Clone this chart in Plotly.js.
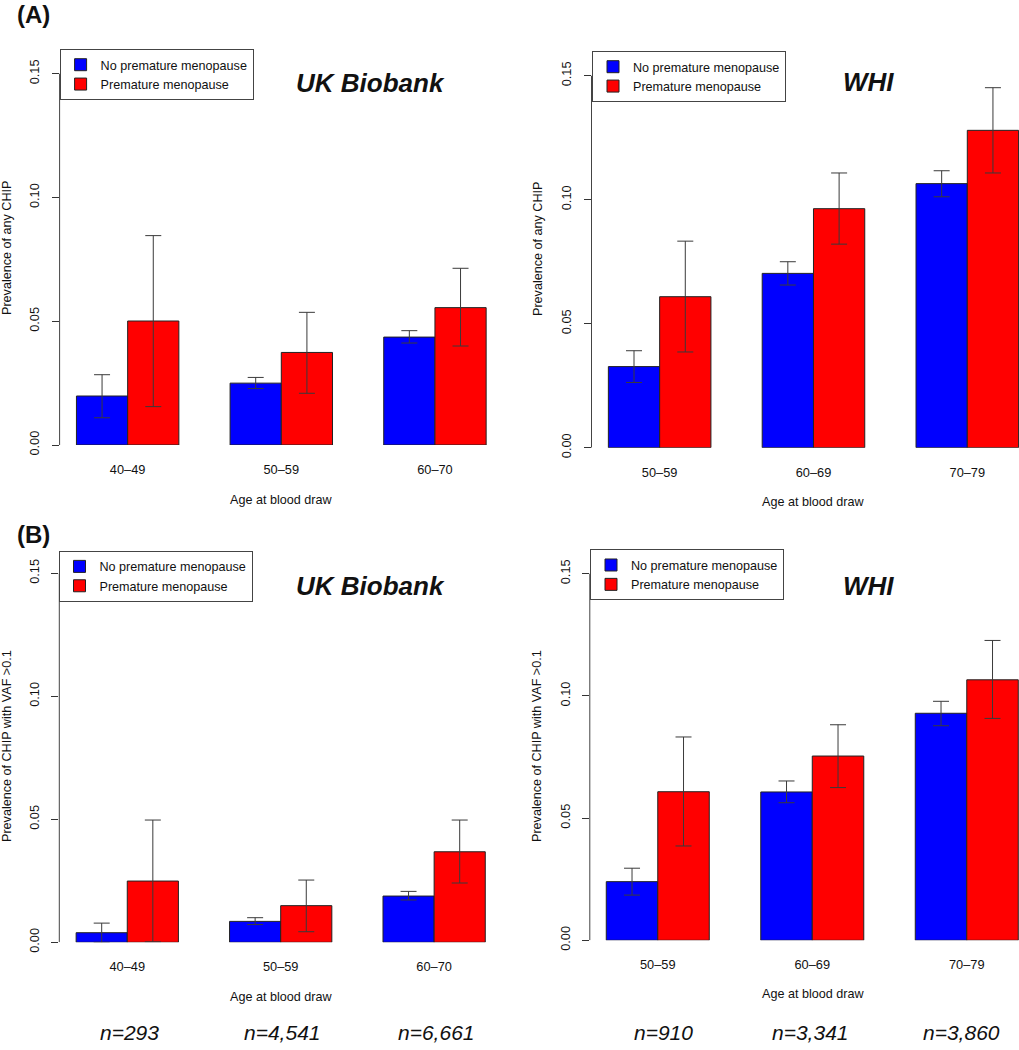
<!DOCTYPE html>
<html>
<head>
<meta charset="utf-8">
<script src="https://cdn.plot.ly/plotly-3.0.1.min.js"></script>
<style>html,body{margin:0;padding:0;background:#fff;}#chart{width:1019px;height:1050px;}</style>
</head>
<body>
<div id="chart"></div>
<script>
// ---------- data ----------
const seriesNames = ['No premature menopause', 'Premature menopause'];
const ukAges = ['40–49', '50–59', '60–70'];
const whiAges = ['50–59', '60–69', '70–79'];

// (A) any CHIP — UK Biobank
const ukA_no    = [0.0198, 0.0250, 0.0436];
const ukA_noLo  = [0.0110, 0.0228, 0.0412];
const ukA_noHi  = [0.0284, 0.0273, 0.0462];
const ukA_pm    = [0.0501, 0.0374, 0.0555];
const ukA_pmLo  = [0.0155, 0.0209, 0.0400];
const ukA_pmHi  = [0.0846, 0.0536, 0.0714];

// (A) any CHIP — WHI
const whiA_no   = [0.0327, 0.0703, 0.1065];
const whiA_noLo = [0.0263, 0.0656, 0.1012];
const whiA_noHi = [0.0391, 0.0750, 0.1117];
const whiA_pm   = [0.0609, 0.0964, 0.1280];
const whiA_pmLo = [0.0386, 0.0821, 0.1108];
const whiA_pmHi = [0.0833, 0.1108, 0.1452];

// (B) CHIP with VAF > 0.1 — UK Biobank
const ukB_no    = [0.0039, 0.0085, 0.0188];
const ukB_noLo  = [0.0000, 0.0072, 0.0172];
const ukB_noHi  = [0.0078, 0.0100, 0.0207];
const ukB_pm    = [0.0249, 0.0149, 0.0368];
const ukB_pmLo  = [0.0002, 0.0043, 0.0241];
const ukB_pmHi  = [0.0497, 0.0253, 0.0497];

// (B) CHIP with VAF > 0.1 — WHI
const whiB_no   = [0.0240, 0.0607, 0.0929];
const whiB_noLo = [0.0185, 0.0563, 0.0878];
const whiB_noHi = [0.0295, 0.0652, 0.0978];
const whiB_pm   = [0.0608, 0.0754, 0.1066];
const whiB_pmLo = [0.0386, 0.0625, 0.0908];
const whiB_pmHi = [0.0832, 0.0882, 0.1227];

const ukN  = ['n=293', 'n=4,541', 'n=6,661'];
const whiN = ['n=910', 'n=3,341', 'n=3,860'];

const yTickVals = [0, 0.05, 0.10, 0.15];
const yTickText = ['0.00', '0.05', '0.10', '0.15'];

// ---------- styling ----------
const W = 1019, H = 1050;
const px = v => v / W;
const py = v => 1 - v / H;
const FONT = 'Liberation Sans, Arial, Helvetica, sans-serif';
const BLUE = '#0000FF', RED = '#FF0000';

function makeTraces(cats, no, noLo, noHi, pm, pmLo, pmHi, xa, ya, leg) {
  const mk = (vals, lo, hi, name, color) => ({
    type: 'bar', x: cats, y: vals, name: name, xaxis: xa, yaxis: ya, legend: leg,
    marker: {color: color, line: {color: '#222', width: 1}},
    error_y: {type: 'data', symmetric: false,
      array: vals.map((v, i) => hi[i] - v),
      arrayminus: vals.map((v, i) => v - lo[i]),
      color: '#3a3a3a', thickness: 1, width: 8},
    hoverinfo: 'x+y+name'
  });
  return [mk(no, noLo, noHi, seriesNames[0], BLUE), mk(pm, pmLo, pmHi, seriesNames[1], RED)];
}

const data = [].concat(
  makeTraces(ukAges, ukA_no, ukA_noLo, ukA_noHi, ukA_pm, ukA_pmLo, ukA_pmHi, 'x', 'y', 'legend'),
  makeTraces(whiAges, whiA_no, whiA_noLo, whiA_noHi, whiA_pm, whiA_pmLo, whiA_pmHi, 'x2', 'y2', 'legend2'),
  makeTraces(ukAges, ukB_no, ukB_noLo, ukB_noHi, ukB_pm, ukB_pmLo, ukB_pmHi, 'x3', 'y3', 'legend3'),
  makeTraces(whiAges, whiB_no, whiB_noLo, whiB_noHi, whiB_pm, whiB_pmLo, whiB_pmHi, 'x4', 'y4', 'legend4')
);

function xAx(d0, d1, r0, r1, anchor, stand) {
  return {domain: [px(d0), px(d1)], range: [r0, r1], type: 'category', anchor: anchor,
    showline: false, showgrid: false, zeroline: false, ticks: '', fixedrange: true,
    tickfont: {size: 12.8, color: '#111'}, ticklabelstandoff: stand};
}
function yAx(top, bottom, anchor) {
  return {domain: [py(bottom), py(top)], range: [0, 0.16], anchor: anchor,
    showline: false, showgrid: false, zeroline: false, fixedrange: true,
    ticks: 'outside', ticklen: 7, tickwidth: 1, tickcolor: '#333',
    tickvals: yTickVals, ticktext: yTickText, tickangle: -90,
    tickfont: {size: 12.8, color: '#111'}, ticklabelstandoff: 7};
}
function legendAt(x, y) {
  return {x: px(x), y: py(y), xanchor: 'left', yanchor: 'top', xref: 'paper', yref: 'paper',
    bgcolor: '#fff', bordercolor: '#444', borderwidth: 1,
    font: {size: 12.6, color: '#111', family: FONT}, tracegroupgap: 0, itemclick: false, itemdoubleclick: false};
}
function axisLine(xa, ya) {
  return {type: 'line', xref: xa + ' domain', yref: ya, x0: 0, x1: 0, y0: 0, y1: 0.15,
    line: {color: '#444', width: 1}};
}
function ann(text, x, y, opts) {
  return Object.assign({text: text, x: px(x), y: py(y), xref: 'paper', yref: 'paper',
    showarrow: false, xanchor: 'center', yanchor: 'middle',
    font: {size: 12.6, color: '#111', family: FONT}}, opts || {});
}

const annotations = [
  ann('<b>(A)</b>', 15, 15, {xanchor: 'left', font: {size: 24, color: '#111', family: FONT}}),
  ann('<b>(B)</b>', 15, 534, {xanchor: 'left', font: {size: 24, color: '#111', family: FONT}}),
  ann('<b><i>UK Biobank</i></b>', 370, 83, {font: {size: 26, color: '#111', family: FONT}}),
  ann('<b><i>WHI</i></b>', 868, 82, {font: {size: 26, color: '#111', family: FONT}}),
  ann('<b><i>UK Biobank</i></b>', 370, 586, {font: {size: 26, color: '#111', family: FONT}}),
  ann('<b><i>WHI</i></b>', 868, 586, {font: {size: 26, color: '#111', family: FONT}}),
  ann('Prevalence of any CHIP', 7, 248, {textangle: -90}),
  ann('Prevalence of any CHIP', 538, 249, {textangle: -90}),
  ann('Prevalence of CHIP with VAF >0.1', 7, 746, {textangle: -90}),
  ann('Prevalence of CHIP with VAF >0.1', 537, 746, {textangle: -90}),
  ann('Age at blood draw', 281, 500),
  ann('Age at blood draw', 813, 502),
  ann('Age at blood draw', 281, 997),
  ann('Age at blood draw', 813, 994)
];
ukN.forEach((t, i) => annotations.push({text: '<i>' + t + '</i>', x: ukAges[i], y: py(1032),
  xref: 'x3', yref: 'paper', showarrow: false, xanchor: 'center', yanchor: 'middle', xshift: 2,
  font: {size: 21, color: '#111', family: FONT}}));
whiN.forEach((t, i) => annotations.push({text: '<i>' + t + '</i>', x: whiAges[i], y: py(1032),
  xref: 'x4', yref: 'paper', showarrow: false, xanchor: 'center', yanchor: 'middle',
  xshift: [6, -2, -5][i],
  font: {size: 21, color: '#111', family: FONT}}));

const layout = {
  width: W, height: H, margin: {l: 0, r: 0, t: 0, b: 0},
  paper_bgcolor: '#fff', plot_bgcolor: 'rgba(0,0,0,0)',
  font: {family: FONT, size: 12.6, color: '#111'},
  barmode: 'group', bargap: 1/3, bargroupgap: 0, showlegend: true,
  xaxis:  xAx(59.6, 503, -0.443, 2.443, 'y', 15),
  yaxis:  yAx(49, 445, 'x'),
  xaxis2: xAx(591.5, 1019, -0.443, 2.336, 'y2', 16),
  yaxis2: yAx(51, 447.67, 'x2'),
  xaxis3: xAx(59.3, 502.1, -0.443, 2.443, 'y3', 15),
  yaxis3: yAx(548.7, 942.3, 'x3'),
  xaxis4: xAx(589.8, 1019, -0.44, 2.338, 'y4', 15),
  yaxis4: yAx(549.3, 940.3, 'x4'),
  legend:  legendAt(59.6, 49),
  legend2: legendAt(592, 51),
  legend3: legendAt(58.5, 550.7),
  legend4: legendAt(590, 549.3),
  shapes: [axisLine('x', 'y'), axisLine('x2', 'y2'), axisLine('x3', 'y3'), axisLine('x4', 'y4')],
  annotations: annotations
};

Plotly.newPlot('chart', data, layout, {displayModeBar: false, staticPlot: true});
</script>
</body>
</html>
